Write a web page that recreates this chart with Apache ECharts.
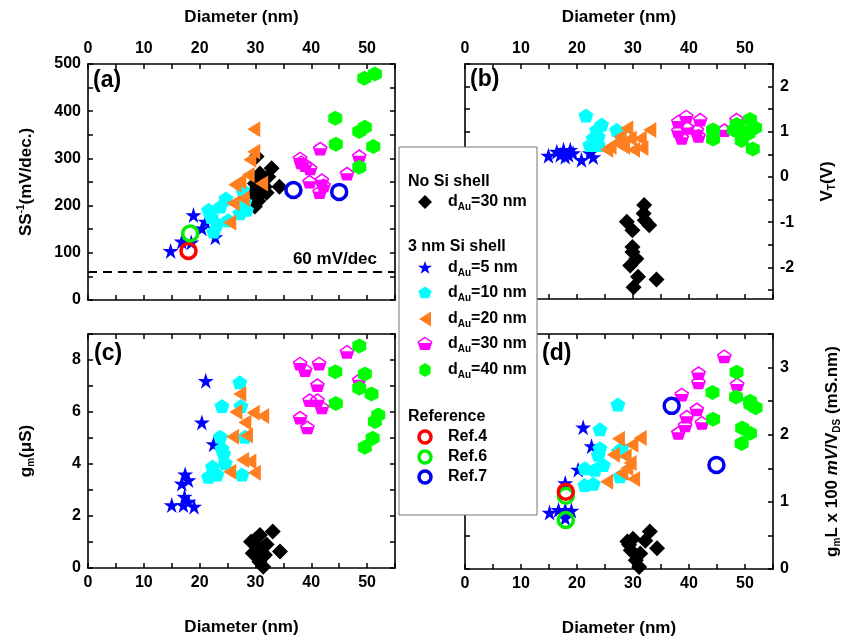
<!DOCTYPE html>
<html>
<head>
<meta charset="utf-8">
<script src="https://cdn.jsdelivr.net/npm/echarts@6/dist/echarts.min.js"></script>
<style>
html,body{margin:0;padding:0;background:#fff}
#chart{width:846px;height:641px}
</style>
</head>
<body>
<div id="chart"></div>
<script>
// ---- tick positions and labels ----
const diamTicks = [0,5,10,15,20,25,30,35,40,45,50,55];
const diamLabels = [0,10,20,30,40,50];
const ssTicks = [0,50,100,150,200,250,300,350,400,450,500];
const ssLabels = [0,100,200,300,400,500];
const vtTicks = [-2.5,-2,-1.5,-1,-0.5,0,0.5,1,1.5,2,2.5];
const vtLabels = [-2,-1,0,1,2];
const gmTicks = [0,1,2,3,4,5,6,7,8,9];
const gmLabels = [0,2,4,6,8];
const glTicks = [0,0.5,1,1.5,2,2.5,3,3.5];
const glLabels = [0,1,2,3];

// ---- (a) inverse subthreshold slope, mV/dec ----
const ssNoShell = [[30.2,304],[32.9,279],[30.8,268],[32.3,261],[29.9,247],[34.3,240],[31.7,240],[29.6,229],[31.1,227],[32.0,227],[30.2,215],[30.5,210],[29.9,198]];
const ssAu5 = [[14.8,104],[16.8,124],[18.5,122],[18.9,180],[20.4,152],[21.1,166],[22.8,133]];
const ssAu10 = [[21.6,191],[22.1,176],[22.5,145],[23.1,162],[23.7,198],[24.7,215],[25.1,169],[27.2,184],[28.1,208],[28.4,191],[27.7,233]];
const ssAu20 = [[29.7,362],[29.7,314],[29.0,297],[28.7,265],[27.2,251],[26.3,244],[31.1,247],[27.8,215],[26.0,205],[25.4,164]];
const ssAu30 = [[38.0,300],[38.2,292],[38.9,286],[39.8,279],[41.6,321],[39.7,251],[41.9,254],[41.5,229],[42.2,243],[46.4,268],[48.6,305]];
const ssAu40 = [[49.5,470],[51.4,479],[44.3,385],[48.6,357],[49.6,366],[44.4,330],[51.1,325],[48.6,281]];
const ssRef4 = [[18.0,104]];
const ssRef6 = [[18.3,141]];
const ssRef7 = [[36.8,233],[45.0,229]];
const ssIdeal = 60;

// ---- (b) threshold voltage, V ----
const vtNoShell = [[32.0,-0.62],[31.9,-0.81],[32.9,-1.07],[32.1,-0.96],[28.9,-0.99],[29.9,-1.18],[29.9,-1.55],[29.9,-1.66],[30.6,-1.81],[29.5,-1.96],[30.9,-2.21],[34.2,-2.27],[30.1,-2.44]];
const vtAu5 = [[14.9,0.47],[16.4,0.56],[17.0,0.49],[17.6,0.6],[17.9,0.45],[18.5,0.49],[18.8,0.6],[19.3,0.53],[20.8,0.38],[22.3,0.53],[22.9,0.44]];
const vtAu10 = [[21.6,1.36],[24.4,1.16],[23.5,1.04],[23.8,0.89],[22.9,0.86],[22.3,0.71],[23.8,0.71],[27.1,1.04],[27.7,0.97]];
const vtAu20 = [[28.9,1.08],[33.0,1.04],[27.7,0.89],[29.5,0.85],[31.3,0.85],[25.9,0.67],[27.1,0.76],[28.3,0.67],[30.1,0.6],[31.6,0.64],[25.3,0.6]];
const vtAu30 = [[39.5,1.34],[38.1,1.23],[42.0,1.27],[39.7,1.09],[38.1,1.02],[41.4,1.04],[38.7,0.87],[41.7,0.91],[46.3,1.04],[48.5,1.27]];
const vtAu40 = [[44.3,1.04],[44.3,0.84],[48.0,1.04],[48.5,1.16],[49.7,1.01],[50.6,0.96],[50.9,1.27],[51.8,1.09],[49.4,0.81],[51.4,0.62]];

// ---- (c) transconductance, uS ----
const gmNoShell = [[33.1,1.4],[30.8,1.27],[29.2,1.01],[29.9,1.08],[32.0,0.9],[34.4,0.63],[30.6,0.76],[29.5,0.57],[31.7,0.5],[31.1,0.4],[30.7,0.24],[31.4,0.05]];
const gmAu5 = [[21.1,7.2],[20.4,5.6],[22.5,4.76],[17.4,3.6],[18.0,3.38],[16.8,3.25],[17.3,2.74],[15.0,2.42],[17.1,2.42],[18.0,2.55],[19.0,2.36]];
const gmAu10 = [[27.2,7.14],[24.0,6.23],[27.4,6.23],[23.7,5.05],[28.1,5.05],[24.0,4.6],[24.3,4.4],[24.6,4.03],[22.3,3.9],[21.6,3.51],[23.1,3.6],[27.6,3.6]];
const gmAu20 = [[27.2,6.69],[26.5,6.0],[28.1,5.6],[29.6,5.97],[31.3,5.85],[25.9,5.05],[28.4,5.1],[27.7,4.15],[29.0,4.1],[25.4,3.7],[29.8,3.66]];
const gmAu30 = [[46.4,8.32],[38.0,7.87],[38.9,7.62],[41.4,7.87],[41.1,7.04],[48.6,7.23],[39.7,6.46],[41.1,6.46],[41.9,6.18],[38.0,5.79],[39.3,5.41]];
const gmAu40 = [[48.6,8.54],[44.3,7.55],[49.6,7.46],[48.6,6.91],[50.8,6.69],[44.4,6.33],[52.0,5.88],[51.4,5.63],[51.0,4.99],[49.6,4.64]];

// ---- (d) normalized transconductance, mS.nm ----
const glNoShell = [[33.0,0.56],[30.0,0.45],[29.0,0.41],[32.2,0.42],[29.3,0.36],[34.3,0.31],[29.6,0.28],[31.3,0.23],[30.5,0.13],[31.1,0.03]];
const glAu5 = [[21.1,2.11],[22.6,1.83],[20.2,1.48],[17.9,1.28],[15.1,0.84],[16.7,0.88],[17.9,0.88],[19.0,0.87],[17.9,0.76]];
const glAu10 = [[27.3,2.45],[24.1,2.08],[24.1,1.80],[23.8,1.70],[24.7,1.55],[21.4,1.50],[23.2,1.48],[28.0,1.80],[27.4,1.75],[27.7,1.38],[21.4,1.25],[22.9,1.27]];
const glAu20 = [[27.4,1.94],[29.8,1.85],[31.3,1.95],[26.5,1.70],[28.6,1.68],[29.5,1.58],[28.9,1.50],[28.0,1.43],[25.3,1.30],[30.1,1.34]];
const glAu30 = [[46.3,3.17],[41.7,2.92],[41.7,2.78],[48.6,2.75],[38.7,2.60],[41.4,2.38],[39.6,2.27],[39.3,2.14],[42.3,2.18],[38.1,2.03]];
const glAu40 = [[48.5,2.93],[44.2,2.63],[48.4,2.56],[50.9,2.50],[51.0,2.45],[51.9,2.40],[44.3,2.23],[49.5,2.10],[50.9,2.02],[49.4,1.87]];
const glRef4 = [[18.0,1.15]];
const glRef6 = [[18.0,1.09],[18.0,0.73]];
const glRef7 = [[36.9,2.43],[44.9,1.55]];

// ---- marker outlines in a 100x100 box ----
const V_STAR = [[50,0],[61.17,34.63],[97.55,34.55],[68.07,55.87],[79.39,90.45],[50,69],[20.61,90.45],[31.93,55.87],[2.45,34.55],[38.83,34.63]];
const V_PENT = [[50,0],[97.55,34.55],[79.39,90.45],[20.61,90.45],[2.45,34.55]];
const V_PENT_HOLE = [[50,12.5],[14.5,38.3],[15.8,43],[84.2,43],[85.5,38.3]]; // reverse winding
const V_PENT_LOW = [[5.2,43],[94.8,43],[79.39,90.45],[20.61,90.45]];
const V_TRI = [[0,50],[100,0],[100,100]];
const V_HEX = [[50,0],[93.3,25],[93.3,75],[50,100],[6.7,75],[6.7,25]];
const V_DIAM = [[50,0],[100,50],[50,100],[0,50]];
const toPath = pts => 'M' + pts.map(p => p[0] + ',' + p[1]).join('L') + 'Z';
const S_STAR = 'path://' + toPath(V_STAR);
const S_PENT = 'path://' + toPath(V_PENT);
const S_HALF = 'path://' + toPath(V_PENT) + toPath(V_PENT_HOLE);
const S_TRI = 'path://' + toPath(V_TRI);
const S_HEX = 'path://' + toPath(V_HEX);

const C = {
  black:'#000000', blue:'#0000ff', cyan:'#00ffff', orange:'#ff7f20',
  magenta:'#ff00ff', green:'#00ff00', red:'#ff0000', refGreen:'#00ee00', refBlue:'#0000ee'
};
const FONT = "'Liberation Sans', Arial, Helvetica, sans-serif";

// ---- panel layout ----
const panels = [
  {left:88,  top:64,  width:307, height:236},
  {left:465, top:64,  width:308, height:235},
  {left:88,  top:334, width:307, height:234},
  {left:465, top:334, width:308, height:235}
];

const richName = {
  n:{fontSize:17, fontWeight:'bold', fontFamily:FONT, color:'#000', lineHeight:20},
  it:{fontSize:17, fontWeight:'bold', fontStyle:'italic', fontFamily:FONT, color:'#000', lineHeight:20},
  sub:{fontSize:10, fontWeight:'bold', fontFamily:FONT, color:'#000', verticalAlign:'bottom', lineHeight:10},
  sup:{fontSize:10, fontWeight:'bold', fontFamily:FONT, color:'#000', verticalAlign:'top', lineHeight:10}
};

function axisBase(ticks, labels, showLabel, min, max) {
  return {
    type:'value', min:min, max:max,
    axisLine:{show:true, onZero:false, lineStyle:{color:'#000', width:1.6}},
    axisTick:{show:true, inside:true, length:5, customValues:ticks, lineStyle:{color:'#000', width:1.5}},
    axisLabel:{show:showLabel, customValues:labels, fontSize:16, fontWeight:'bold', fontFamily:FONT, color:'#000', margin:7},
    splitLine:{show:false},
    nameMoveOverlap:false
  };
}

const xAxes = [], yAxes = [];
const yCfg = [
  {ticks:ssTicks, labels:ssLabels, min:0, max:500, labelSide:'left',
   name:'{n|SS}{sup|-1}{n|(mV/dec.)}', gap:52},
  {ticks:vtTicks, labels:vtLabels, min:-2.7, max:2.5, labelSide:'right',
   name:'{n|V}{sub|T}{n|(V)}', gap:44},
  {ticks:gmTicks, labels:gmLabels, min:0, max:9, labelSide:'left',
   name:'{n|g}{sub|m}{n|(μS)}', gap:52},
  {ticks:glTicks, labels:glLabels, min:0, max:3.5, labelSide:'right',
   name:'{n|g}{sub|m}{n|L x 100 }{it|mV}{n|/V}{sub|DS}{n| (mS.nm)}', gap:49}
];
panels.forEach((p, i) => {
  const topLabels = i < 2;
  const xb = Object.assign(axisBase(diamTicks, diamLabels, !topLabels, 0, 55), {gridIndex:i, position:'bottom'});
  const xt = Object.assign(axisBase(diamTicks, diamLabels, topLabels, 0, 55), {gridIndex:i, position:'top'});
  const titled = topLabels ? xt : xb;
  titled.name = 'Diameter (nm)';
  titled.nameLocation = 'middle';
  titled.nameGap = topLabels ? 38 : 51;
  titled.nameTextStyle = {fontSize:17, fontWeight:'bold', fontFamily:FONT, color:'#000'};
  xAxes.push(xb, xt);

  const c = yCfg[i];
  const yl = Object.assign(axisBase(c.ticks, c.labels, c.labelSide === 'left', c.min, c.max), {gridIndex:i, position:'left'});
  const yr = Object.assign(axisBase(c.ticks, c.labels, c.labelSide === 'right', c.min, c.max), {gridIndex:i, position:'right'});
  const ty = c.labelSide === 'left' ? yl : yr;
  ty.name = c.name;
  ty.nameLocation = 'middle';
  ty.nameGap = c.gap;
  ty.nameRotate = 90;
  ty.nameTextStyle = {rich:richName};
  yAxes.push(yl, yr);
});

function scatter(data, gi, symbol, size, style, z) {
  return {
    type:'scatter', xAxisIndex:gi*2, yAxisIndex:gi*2, data:data,
    symbol:symbol, symbolSize:size, itemStyle:Object.assign({opacity:1}, style),
    z:z || 2, silent:true, animation:false
  };
}

const groups = [
  [ssNoShell, ssAu5, ssAu10, ssAu20, ssAu30, ssAu40],
  [vtNoShell, vtAu5, vtAu10, vtAu20, vtAu30, vtAu40],
  [gmNoShell, gmAu5, gmAu10, gmAu20, gmAu30, gmAu40],
  [glNoShell, glAu5, glAu10, glAu20, glAu30, glAu40]
];
const series = [];
groups.forEach((g, i) => {
  series.push(scatter(g[0], i, 'diamond', 16, {color:C.black}, 2));
  series.push(scatter(g[1], i, S_STAR, 16, {color:C.blue}, 3));
  series.push(scatter(g[2], i, S_PENT, [15,14], {color:C.cyan}, 3));
  series.push(scatter(g[3], i, S_TRI, [13,16], {color:C.orange}, 4));
  series.push(scatter(g[4], i, S_PENT, [15,14], {color:'#ffffff'}, 4));
  series.push(scatter(g[4], i, S_HALF, [15,14], {color:C.magenta}, 5));
  series.push(scatter(g[5], i, S_HEX, [14,15], {color:C.green}, 5));
});
const ring = col => ({color:'rgba(0,0,0,0)', borderColor:col, borderWidth:3.5});
series.push(scatter(ssRef4, 0, 'circle', 15, ring(C.red), 8));
series.push(scatter(ssRef6, 0, 'circle', 15, ring(C.refGreen), 8));
series.push(scatter(ssRef7, 0, 'circle', 15, ring(C.refBlue), 8));
series.push(scatter(glRef6, 3, 'circle', 15, ring(C.refGreen), 8));
series.push(scatter(glRef4, 3, 'circle', 15, ring(C.red), 9));
series.push(scatter(glRef7, 3, 'circle', 15, ring(C.refBlue), 8));

// ideal 60 mV/dec limit in (a)
series[0].markLine = {
  silent:true, symbol:'none', animation:false,
  lineStyle:{color:'#000', width:2, type:[9,6]},
  data:[{yAxis:ssIdeal}],
  label:{show:true, position:'insideEndTop', formatter:'60 mV/dec', distance:[18,4],
    fontSize:17, fontWeight:'bold', fontFamily:FONT, color:'#000'}
};

// ---- panel letters and key box ----
const graphic = [];
[['(a)',93,81],['(b)',470,80],['(c)',94,354],['(d)',542,354]].forEach(t => {
  graphic.push({type:'text', x:t[1], y:t[2], z:100,
    style:{text:t[0], fill:'#000', font:'bold 23px ' + FONT, verticalAlign:'middle'}});
});
const kb = {x:399, y:147, w:138, h:368};
graphic.push({type:'rect', z:100, shape:{x:kb.x, y:kb.y, width:kb.w, height:kb.h},
  style:{fill:'#fff', stroke:'#777', lineWidth:1}});
const richKey = {
  a:{fontSize:16, fontWeight:'bold', fontFamily:FONT, fill:'#000', lineHeight:20},
  s:{fontSize:10, fontWeight:'bold', fontFamily:FONT, fill:'#000', verticalAlign:'bottom', lineHeight:10}
};
function keyHead(text, y) {
  graphic.push({type:'text', x:408, y:y, z:101,
    style:{text:text, fill:'#000', font:'bold 16px ' + FONT, verticalAlign:'middle'}});
}
function keyLabel(text, y) {
  graphic.push({type:'text', x:448, y:y, z:101,
    style:{text:text, rich:richKey, verticalAlign:'middle', fill:'#000'}});
}
function keyShape(pts, y, w, h, style) {
  graphic.push({type:'polygon', z:101,
    shape:{points:pts.map(p => [425 - w/2 + p[0]*w/100, y - h/2 + p[1]*h/100])},
    style:style});
}
function keyRing(y, col) {
  graphic.push({type:'circle', z:101, shape:{cx:425, cy:y, r:6},
    style:{fill:'none', stroke:col, lineWidth:3.5}});
}
keyHead('No Si shell', 182);
keyShape(V_DIAM, 202, 14, 14, {fill:C.black}); keyLabel('{a|d}{s|Au}{a|=30 nm}', 202);
keyHead('3 nm Si shell', 247);
keyShape(V_STAR, 268, 15, 14, {fill:C.blue});   keyLabel('{a|d}{s|Au}{a|=5 nm}', 268);
keyShape(V_PENT, 293, 14, 13, {fill:C.cyan});   keyLabel('{a|d}{s|Au}{a|=10 nm}', 293);
keyShape(V_TRI, 319, 12, 15, {fill:C.orange});  keyLabel('{a|d}{s|Au}{a|=20 nm}', 319);
keyShape(V_PENT, 344, 14, 13, {fill:'#fff', stroke:C.magenta, lineWidth:1.5});
keyShape(V_PENT_LOW, 344, 14, 13, {fill:C.magenta}); keyLabel('{a|d}{s|Au}{a|=30 nm}', 344);
keyShape(V_HEX, 370, 13, 14, {fill:C.green});   keyLabel('{a|d}{s|Au}{a|=40 nm}', 370);
keyHead('Reference', 417);
keyRing(437, C.red);      keyLabel('{a|Ref.4}', 437);
keyRing(457, C.refGreen); keyLabel('{a|Ref.6}', 457);
keyRing(477, C.refBlue);  keyLabel('{a|Ref.7}', 477);

const chart = echarts.init(document.getElementById('chart'), null, {renderer:'canvas'});
chart.setOption({
  animation:false,
  backgroundColor:'#fff',
  grid: panels.map(p => Object.assign({containLabel:false, outerBoundsMode:'none', show:false}, p)),
  xAxis: xAxes,
  yAxis: yAxes,
  series: series,
  graphic: graphic
});
</script>
</body>
</html>
